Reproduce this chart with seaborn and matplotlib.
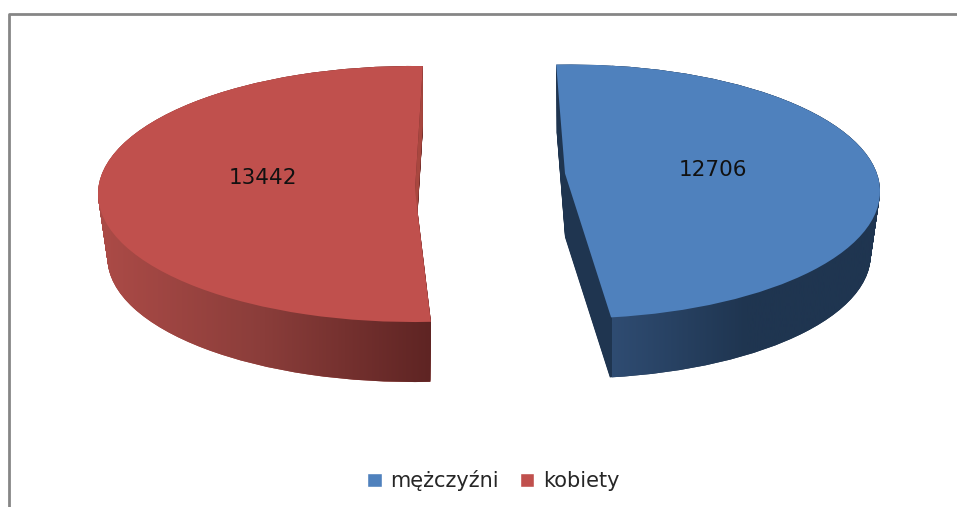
import numpy as np
import matplotlib
matplotlib.use('Agg')
import matplotlib.pyplot as plt
from matplotlib.colors import LinearSegmentedColormap
from matplotlib.lines import Line2D
from matplotlib.patches import Patch, PathPatch, Polygon
from matplotlib.path import Path
import seaborn as sns

# values
categories = ['mężczyźni', 'kobiety']
values = [12706, 13442]
value_labels = ['12706', '13442']

top_colors = ['#4F81BD', '#C0504D']
inner_colors = ['#1F3550', '#A8473F']
side_ramps = [['#2F4C72', '#1F3550', '#1F3550'], ['#AC4B47', '#8A3D3A', '#5E2423']]

sns.set_theme(style='white')
plt.rcParams['font.family'] = ['DejaVu Sans']

W, H = 957, 507
fig = plt.figure(figsize=(W / 100, H / 100), dpi=100)


def moved_apex(ax, wedge, center, apex):
    # the tip of the slice sits off centre in the perspective view
    path = wedge.get_path().transformed(wedge.get_patch_transform())
    verts = path.vertices.copy()
    near = np.hypot(verts[:, 0] - center[0], verts[:, 1] - center[1]) < 1e-6
    verts[near] = [center[0] + apex[0], center[1] + apex[1]]
    wedge.remove()
    patch = PathPatch(Path(verts, path.codes), linewidth=0, transform=ax.transData)
    ax.add_patch(patch)
    return patch


def draw_slice(i, start, cx, cy, a, b, grad, apex, label_xy, cut_angle=None):
    # one axes per slice, squashed so that one unit = a px across and b px down
    ax = fig.add_axes([0, 0, 1, 1])
    pair = [values[i], sum(values) - values[i]]
    depth = 60 / b
    shrink = 0.03
    cmap = LinearSegmentedColormap.from_list('side', side_ramps[i])

    # side of the pie: stacked copies going down with a clipped gradient on each
    for k in np.linspace(depth, 0, 60):
        r = 1 - shrink * k / depth
        c = (0, -(k + 1 - r))
        wedges, _ = ax.pie(pair, startangle=start, counterclock=False, center=c,
                           radius=r, colors=[inner_colors[i], 'none'], frame=True)
        wedges[1].remove()
        patch = moved_apex(ax, wedges[0], c, apex)
        patch.set_facecolor(inner_colors[i])
        patch.set_zorder(1)
        im = ax.imshow(np.linspace(0, 1, 256).reshape(1, -1), cmap=cmap, aspect='auto',
                       extent=(grad[0], grad[1], -3, 3), zorder=2)
        im.set_clip_path(patch)

    # flat cut face that shows above the tip of the slice
    if cut_angle is not None:
        p = (np.cos(np.radians(cut_angle)), np.sin(np.radians(cut_angle)))
        ax.add_patch(Polygon([p, apex, (apex[0], apex[1] - depth), (p[0], p[1] - depth)],
                             facecolor=inner_colors[i], linewidth=0, zorder=2.5))

    # top face
    wedges, _ = ax.pie(pair, startangle=start, counterclock=False, radius=1,
                       colors=[top_colors[i], 'none'], frame=True)
    wedges[1].remove()
    patch = moved_apex(ax, wedges[0], (0, 0), apex)
    patch.set_facecolor(top_colors[i])
    patch.set_zorder(3)

    ax.set_aspect('auto')
    ax.set_xlim(-cx / a, (W - cx) / a)
    ax.set_ylim(-(H - cy) / b, cy / b)
    ax.axis('off')
    ax.patch.set_alpha(0)
    ax.text(label_xy[0], label_xy[1], value_labels[i], ha='center', va='center',
            fontsize=15.5, color='#111111', zorder=4)


draw_slice(0, 92.55, 570, 191.5, 310, 127, (0.135, 1.0), (-5 / 310, 18 / 127), (0.46, 0.17))
draw_slice(1, 273.27, 413, 194, 315, 128, (-1.0, 0.063), (2 / 315, 4 / 128),
           (-0.476, 0.125), cut_angle=88.2)

handles = [Patch(facecolor=c, label=n) for c, n in zip(top_colors, categories)]
fig.legend(handles=handles, loc='center', bbox_to_anchor=(0.5155, 0.052), ncol=2, frameon=False,
           fontsize=15, handlelength=0.7, handleheight=0.7, columnspacing=1.0, handletextpad=0.4)

# chart area border, only top and left are in the crop
fig.add_artist(Line2D([9 / W, 9 / W, 1], [0, 1 - 14 / H, 1 - 14 / H], color='#868686', lw=2))

fig.savefig('out.png', dpi=100)
